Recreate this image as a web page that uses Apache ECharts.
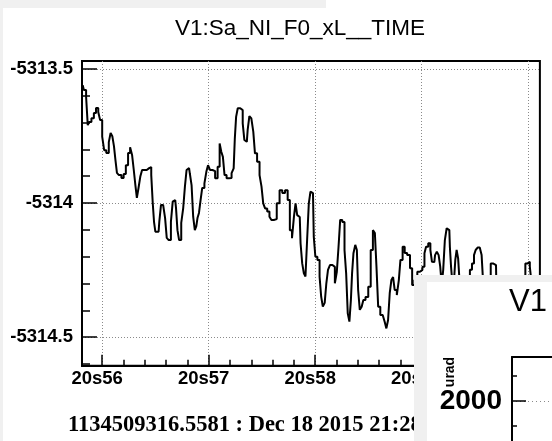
<!DOCTYPE html>
<html><head><meta charset="utf-8">
<script src="https://cdn.jsdelivr.net/npm/echarts@6/dist/echarts.min.js"></script>
<style>html,body{margin:0;padding:0;background:#fff}#c{width:552px;height:441px}</style>
</head><body><div id="c"></div>
<script>
const chartTitle = 'V1:Sa_NI_F0_xL__TIME';
const footerText = '1134509316.5581 : Dec 18 2015 21:28:36';
const times = [55.818,55.839,55.860,55.870,55.886,55.913,55.932,55.953,55.974,55.988,
56.013,56.025,56.053,56.072,56.087,56.104,56.118,56.132,56.146,56.169,
56.193,56.211,56.234,56.253,56.272,56.290,56.304,56.320,56.332,56.351,
56.367,56.383,56.407,56.430,56.453,56.469,56.481,56.493,56.506,56.530,
56.543,56.562,56.583,56.599,56.614,56.636,56.655,56.670,56.686,56.701,
56.713,56.732,56.753,56.769,56.785,56.800,56.816,56.832,56.847,56.862,
56.878,56.890,56.900,56.918,56.930,56.949,56.971,56.986,57.002,57.023,
57.048,57.073,57.095,57.111,57.126,57.141,57.157,57.179,57.202,57.228,
57.241,57.250,57.265,57.281,57.312,57.327,57.343,57.358,57.374,57.390,
57.411,57.427,57.442,57.467,57.488,57.504,57.520,57.539,57.560,57.581,
57.597,57.625,57.653,57.678,57.704,57.730,57.753,57.771,57.793,57.808,
57.823,57.839,57.855,57.870,57.886,57.901,57.916,57.932,57.948,57.963,
57.979,57.994,58.009,58.032,58.050,58.062,58.081,58.097,58.112,58.128,
58.149,58.174,58.195,58.211,58.227,58.242,58.267,58.283,58.298,58.313,
58.329,58.341,58.351,58.367,58.385,58.397,58.409,58.428,58.444,58.460,
58.484,58.512,58.530,58.553,58.567,58.583,58.599,58.623,58.644,58.660,
58.676,58.692,58.707,58.723,58.739,58.753,58.779,58.791,58.809,58.832,
58.848,58.878,58.902,58.918,58.946,58.971,58.995,59.018,59.033,59.048,
59.074,59.088,59.104,59.118,59.132,59.151,59.166,59.181,59.194,59.209,
59.225,59.243,59.259,59.269,59.281,59.297,59.309,59.321,59.334,59.349,
59.365,59.393,59.421,59.444,59.460,59.483,59.498,59.514,59.535,59.554,
59.570,59.585,59.607,59.635,59.660,59.678,59.697,59.704,59.737,59.774,
59.811,59.849,59.886,59.923,59.960,59.985,60.004,60.025,60.039,60.072];
const values = [-5313.561,-5313.579,-5313.604,-5313.710,-5313.698,-5313.684,-5313.665,-5313.646,-5313.661,-5313.691,
-5313.753,-5313.803,-5313.814,-5313.773,-5313.739,-5313.751,-5313.788,-5313.840,-5313.888,-5313.896,
-5313.907,-5313.892,-5313.859,-5313.814,-5313.792,-5313.821,-5313.877,-5313.933,-5313.981,-5313.944,
-5313.900,-5313.877,-5313.877,-5313.870,-5313.866,-5313.896,-5314.000,-5314.070,-5314.107,-5314.107,
-5314.070,-5314.007,-5314.007,-5314.056,-5314.130,-5314.138,-5314.070,-5313.995,-5313.989,-5314.019,
-5314.101,-5314.138,-5314.074,-5314.019,-5313.939,-5313.877,-5313.870,-5313.892,-5313.933,-5314.051,
-5314.101,-5314.086,-5314.056,-5314.037,-5313.989,-5313.944,-5313.927,-5313.883,-5313.859,-5313.877,
-5313.881,-5313.908,-5313.865,-5313.778,-5313.809,-5313.828,-5313.896,-5313.908,-5313.907,-5313.889,
-5313.871,-5313.759,-5313.679,-5313.647,-5313.654,-5313.703,-5313.765,-5313.772,-5313.728,-5313.676,
-5313.685,-5313.735,-5313.815,-5313.846,-5313.896,-5313.939,-5314.001,-5314.020,-5314.032,-5314.051,
-5314.063,-5314.060,-5314.001,-5313.952,-5313.963,-5313.952,-5313.989,-5314.101,-5314.131,-5314.051,
-5314.001,-5314.045,-5314.052,-5314.150,-5314.225,-5314.262,-5314.274,-5314.138,-5314.001,-5313.958,
-5313.963,-5314.125,-5314.200,-5314.212,-5314.274,-5314.349,-5314.386,-5314.372,-5314.299,-5314.249,
-5314.231,-5314.238,-5314.299,-5314.256,-5314.163,-5314.063,-5314.071,-5314.175,-5314.262,-5314.411,
-5314.442,-5314.361,-5314.262,-5314.187,-5314.156,-5314.175,-5314.324,-5314.398,-5314.386,-5314.361,
-5314.350,-5314.312,-5314.175,-5314.101,-5314.112,-5314.237,-5314.386,-5314.417,-5314.410,-5314.442,
-5314.467,-5314.436,-5314.336,-5314.287,-5314.276,-5314.324,-5314.343,-5314.287,-5314.212,-5314.163,
-5314.186,-5314.194,-5314.243,-5314.305,-5314.287,-5314.256,-5314.249,-5314.237,-5314.187,-5314.163,
-5314.150,-5314.175,-5314.219,-5314.220,-5314.194,-5314.181,-5314.194,-5314.237,-5314.305,-5314.249,
-5314.138,-5314.094,-5314.101,-5314.163,-5314.237,-5314.305,-5314.287,-5314.212,-5314.175,-5314.206,
-5314.305,-5314.361,-5314.343,-5314.305,-5314.249,-5314.225,-5314.194,-5314.175,-5314.166,-5314.171,
-5314.194,-5314.305,-5314.361,-5314.324,-5314.225,-5314.219,-5314.231,-5314.305,-5314.380,-5314.343,
-5314.361,-5314.324,-5314.361,-5314.343,-5314.305,-5314.225,-5314.219,-5314.237,-5314.305,-5314.343];
const xMajorTicks = [56, 57, 58, 59, 60];
const xTickLabels = ['20s56', '20s57', '20s58', '20s59', '21s00'];
const xMinorTicks = [55.8,56.0,56.2,56.4,56.6,56.8,57.0,57.2,57.4,57.6,57.8,58.0,58.2,58.4,58.6,58.8,59.0,59.2,59.4,59.6,59.8,60.0];
const yMajorTicks = [-5314.5, -5314, -5313.5];
const yTickLabels = ['-5314.5', '-5314', '-5313.5'];
const yMinorTicks = [-5314.6,-5314.5,-5314.4,-5314.3,-5314.2,-5314.1,-5314.0,-5313.9,-5313.8,-5313.7,-5313.6,-5313.5];
const insetTitle = 'V1';
const insetYName = 'urad';
const insetMajorTicks = [2000];
const insetTickLabels = ['2000'];
const insetMinorTicks = [1500, 2500];

const X_MIN = 55.811, X_MAX = 60.109, Y_MIN = -5314.606, Y_MAX = -5313.471;
const labelOf = (vals, labs) => v => { let b = 0; vals.forEach((t, i) => { if (Math.abs(t - v) < Math.abs(vals[b] - v)) b = i; }); return labs[b]; };
const dotted = { show: true, lineStyle: { color: '#8a8a8a', width: 1, type: [1, 2] } };
const black = { color: '#000', width: 2 };
const sans = 'Liberation Sans, Arial, sans-serif';

const chart = echarts.init(document.getElementById('c'), null, { renderer: 'canvas' });
chart.setOption({
  animation: false,
  backgroundColor: '#fff',
  title: { text: chartTitle, left: 295, top: 12, textAlign: 'center',
    textStyle: { fontFamily: sans, fontSize: 22.5, fontWeight: 'normal', color: '#000' } },
  grid: [
    { left: 82, top: 61, right: 8, bottom: 75.3, show: true, borderColor: '#000', borderWidth: 2, backgroundColor: 'transparent' },
    { left: 512, top: 357, right: -80, bottom: 0 }
  ],
  xAxis: [
    { type: 'value', gridIndex: 0, min: X_MIN, max: X_MAX, position: 'bottom',
      axisLine: { show: true, lineStyle: black },
      axisTick: { show: true, inside: true, length: 6, customValues: xMinorTicks, lineStyle: { color: '#000', width: 1.5 } },
      axisLabel: { show: false }, splitLine: { show: false } },
    { type: 'value', gridIndex: 0, min: X_MIN, max: X_MAX, position: 'bottom',
      axisLine: { show: false },
      axisTick: { show: true, inside: true, length: 11, customValues: xMajorTicks, lineStyle: { color: '#000', width: 1.5 } },
      axisLabel: { show: true, customValues: xMajorTicks, formatter: labelOf(xMajorTicks, xTickLabels), margin: 4,
        padding: [0, 10, 0, 0], fontFamily: sans, fontWeight: 'bold', fontSize: 18.5, color: '#000' },
      splitLine: dotted },
    { type: 'value', gridIndex: 1, min: 0, max: 1, position: 'top', z: 60,
      axisLine: { show: true, lineStyle: black }, axisTick: { show: false }, axisLabel: { show: false }, splitLine: { show: false } }
  ],
  yAxis: [
    { type: 'value', gridIndex: 0, min: Y_MIN, max: Y_MAX, position: 'left',
      axisLine: { show: true, lineStyle: black },
      axisTick: { show: true, inside: true, length: 8, customValues: yMinorTicks, lineStyle: { color: '#000', width: 1.5 } },
      axisLabel: { show: false }, splitLine: { show: false } },
    { type: 'value', gridIndex: 0, min: Y_MIN, max: Y_MAX, position: 'left',
      axisLine: { show: false },
      axisTick: { show: true, inside: true, length: 15, customValues: yMajorTicks, lineStyle: { color: '#000', width: 1.5 } },
      axisLabel: { show: true, customValues: yMajorTicks, formatter: labelOf(yMajorTicks, yTickLabels), margin: 9,
        fontFamily: sans, fontWeight: 'bold', fontSize: 18.5, color: '#000' },
      splitLine: dotted },
    { type: 'value', gridIndex: 1, min: 1200, max: 2880, position: 'left', z: 60,
      axisLine: { show: true, lineStyle: black },
      axisTick: { show: true, inside: true, length: 5, customValues: insetMinorTicks, lineStyle: { color: '#000', width: 1.5 } },
      axisLabel: { show: false }, splitLine: { show: false } },
    { type: 'value', gridIndex: 1, min: 1200, max: 2880, position: 'left', z: 60,
      axisLine: { show: false },
      axisTick: { show: true, inside: true, length: 14, customValues: insetMajorTicks, lineStyle: { color: '#000', width: 1.5 } },
      axisLabel: { show: true, customValues: insetMajorTicks, formatter: labelOf(insetMajorTicks, insetTickLabels), margin: 10,
        fontFamily: sans, fontWeight: 'bold', fontSize: 28, color: '#000' },
      splitLine: { show: true, lineStyle: { color: '#8a8a8a', width: 1, type: [1, 3] } } }
  ],
  series: [{
    type: 'line', xAxisIndex: 0, yAxisIndex: 0, step: 'middle', showSymbol: false, symbol: 'none',
    lineStyle: { color: '#000', width: 2 }, data: times.map((t, i) => [t, values[i]]), z: 2
  }],
  graphic: [
    { type: 'rect', z: 50, shape: { x: 0, y: 0, width: 326, height: 8 }, style: { fill: '#f0f0f0' } },
    { type: 'rect', z: 50, shape: { x: 0, y: 0, width: 3, height: 441 }, style: { fill: '#f0f0f0' } },
    { type: 'text', z: 50, left: 68, top: 414, style: { text: footerText, font: 'bold 22.5px "Liberation Serif", "Times New Roman", serif', fill: '#000' } },
    { type: 'rect', z: 55, shape: { x: 414, y: 275, width: 138, height: 166 }, style: { fill: '#f0f0f0' } },
    { type: 'rect', z: 56, shape: { x: 427, y: 282, width: 125, height: 159 }, style: { fill: '#fff' } },
    { type: 'text', z: 61, left: 509, top: 287, style: { text: insetTitle, font: '31px "Liberation Sans", Arial, sans-serif', fill: '#000' } },
    { type: 'text', z: 59, x: 450, y: 372, rotation: Math.PI / 2,
      style: { text: insetYName, font: 'bold 14px "Liberation Sans", Arial, sans-serif', fill: '#000', align: 'center', verticalAlign: 'middle' } }
  ]
});
</script></body></html>
